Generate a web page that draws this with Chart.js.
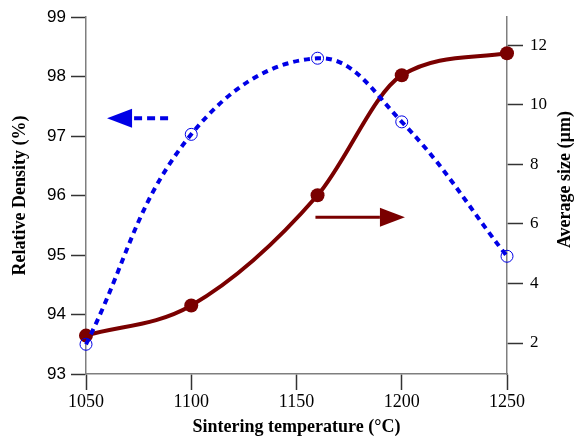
<!DOCTYPE html>
<html>
<head>
<meta charset="utf-8">
<script src="https://cdn.jsdelivr.net/npm/chart.js@4/dist/chart.umd.min.js"></script>
<style>
  body { margin: 0; background: #fff; }
</style>
</head>
<body>
<canvas id="sinterChart" width="574" height="443"></canvas>
<script>
// sintering data
const temperatures = [1050, 1100, 1160, 1200, 1250];
const relativeDensity = [93.5, 97.03, 98.31, 97.24, 94.98];
const averageSize = [2.25, 3.26, 6.96, 10.99, 11.73];

const densityTicks = [93, 94, 95, 96, 97, 98, 99];
const sizeTicks = [2, 4, 6, 8, 10, 12];
const tempTicks = [1050, 1100, 1150, 1200, 1250];

const blue = 'rgb(0, 0, 230)';
const brown = 'rgb(122, 0, 0)';
const serif = 'Liberation Serif';

function pairs(xs, ys) {
    return xs.map((x, i) => ({ x: x, y: ys[i] }));
}

// arrows telling which axis each curve belongs to (data coordinates)
const arrows = [
    { axis: 'y', x1: 1089, x2: 1060, y: 97.3, color: blue, dashed: true, width: 4 },
    { axis: 'y1', x1: 1159, x2: 1201.5, y: 6.22, color: brown, dashed: false, width: 3 }
];

const arrowPlugin = {
    id: 'axisArrows',
    afterDatasetsDraw(chart) {
        const ctx = chart.ctx;
        const xs = chart.scales.x;
        arrows.forEach(a => {
            const ys = chart.scales[a.axis];
            const px1 = xs.getPixelForValue(a.x1);
            const px2 = xs.getPixelForValue(a.x2);
            const py = ys.getPixelForValue(a.y);
            const dir = Math.sign(px2 - px1);
            const headLen = 25;
            const half = 9.5;
            const base = px2 - dir * headLen;
            ctx.save();
            ctx.strokeStyle = a.color;
            ctx.fillStyle = a.color;
            ctx.lineWidth = a.width;
            ctx.setLineDash(a.dashed ? [8, 5] : []);
            ctx.beginPath();
            ctx.moveTo(px1, py);
            ctx.lineTo(base, py);
            ctx.stroke();
            ctx.setLineDash([]);
            ctx.beginPath();
            ctx.moveTo(px2, py);
            ctx.lineTo(base, py - half);
            ctx.lineTo(base, py + half);
            ctx.closePath();
            ctx.fill();
            ctx.restore();
        });
    }
};

// right axis title reads bottom-to-top, so it is drawn by hand
const rightTitlePlugin = {
    id: 'rightTitle',
    afterDraw(chart) {
        const ctx = chart.ctx;
        const area = chart.chartArea;
        ctx.save();
        ctx.translate(chart.width - 9, (area.top + area.bottom) / 2 - 16);
        ctx.rotate(-Math.PI / 2);
        ctx.font = 'bold 18px "' + serif + '"';
        ctx.fillStyle = '#000';
        ctx.textAlign = 'center';
        ctx.textBaseline = 'middle';
        ctx.fillText('Average size (µm)', 0, 0);
        ctx.restore();
    }
};

function keepTicks(list) {
    return function (scale) {
        scale.ticks = list.map(v => ({ value: v }));
    };
}

const config = {
    type: 'line',
    data: {
        datasets: [
            {
                label: 'Relative Density',
                data: pairs(temperatures, relativeDensity),
                yAxisID: 'y',
                borderColor: blue,
                borderWidth: 4,
                borderDash: [6, 5],
                tension: 0.4,
                pointRadius: 6,
                pointBorderWidth: 1,
                pointBorderColor: blue,
                pointBackgroundColor: 'rgba(0,0,0,0)',
                clip: false
            },
            {
                label: 'Average size',
                data: pairs(temperatures, averageSize),
                yAxisID: 'y1',
                borderColor: brown,
                borderWidth: 4,
                cubicInterpolationMode: 'monotone',
                pointRadius: 7,
                pointBorderWidth: 0,
                pointBackgroundColor: brown,
                clip: false
            }
        ]
    },
    options: {
        responsive: false,
        animation: false,
        layout: { padding: { top: 17, right: 0, left: 0, bottom: 0 } },
        plugins: {
            legend: { display: false },
            tooltip: { enabled: false }
        },
        scales: {
            x: {
                type: 'linear',
                min: 1050,
                max: 1250,
                afterBuildTicks: keepTicks(tempTicks),
                afterFit(scale) { scale.height = 69; },
                border: { color: '#7f7f7f', width: 1.5 },
                grid: { drawOnChartArea: false, tickLength: 16, tickColor: '#333', tickWidth: 1.5 },
                ticks: {
                    color: '#000',
                    padding: 1,
                    maxRotation: 0,
                    callback: v => String(v),
                    font: { family: serif, size: 18 }
                },
                title: {
                    display: true,
                    text: 'Sintering temperature (°C)',
                    color: '#000',
                    padding: { top: 0, bottom: 5 },
                    font: { family: serif, size: 18, weight: 'bold' }
                }
            },
            y: {
                position: 'left',
                min: 93,
                max: 99,
                afterBuildTicks: keepTicks(densityTicks),
                afterFit(scale) { scale.width = 86; },
                border: { color: '#7f7f7f', width: 1.5 },
                grid: { drawOnChartArea: false, tickLength: 15, tickColor: '#333', tickWidth: 1.5 },
                ticks: {
                    color: '#000',
                    padding: 5,
                    font: { family: 'Liberation Sans', size: 17 }
                },
                title: {
                    display: true,
                    text: 'Relative Density (%)',
                    color: '#000',
                    padding: { top: 10, bottom: 0 },
                    font: { family: serif, size: 18, weight: 'bold' }
                }
            },
            y1: {
                position: 'right',
                min: 0.96,
                max: 12.94,
                afterBuildTicks: keepTicks(sizeTicks),
                afterFit(scale) { scale.width = 67; },
                border: { color: '#7f7f7f', width: 1.5 },
                grid: { drawOnChartArea: false, tickLength: 16, tickColor: '#333', tickWidth: 1.5 },
                ticks: {
                    color: '#000',
                    padding: 7,
                    font: { family: serif, size: 17 }
                }
            }
        }
    },
    plugins: [arrowPlugin, rightTitlePlugin]
};

var sinterChart = new Chart(document.getElementById('sinterChart'), config);
</script>
</body>
</html>
